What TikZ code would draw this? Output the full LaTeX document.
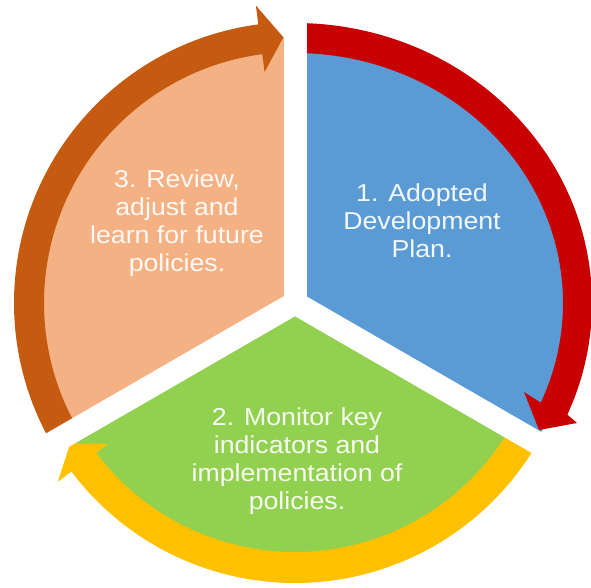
\documentclass[tikz,border=0pt]{standalone}
\usepackage{fontspec}
\setmainfont[FakeStretch=1.09]{Liberation Sans}
\definecolor{cblue}{HTML}{5B9BD5}
\definecolor{cred}{HTML}{C80000}
\definecolor{cgreen}{HTML}{92D050}
\definecolor{cyellow}{HTML}{FFC000}
\definecolor{csalmon}{HTML}{F4B183}
\definecolor{corange}{HTML}{C55A11}
\begin{document}
\begin{tikzpicture}[x=1pt,y=1pt,
  txt/.style={text=white, text opacity=0.92, align=center, inner sep=0pt, font=\fontsize{24.5}{28}\selectfont},
  gapstrip/.style={white, line width=23pt}]
\useasboundingbox (0,0) rectangle (591,588);
\coordinate (C) at (295,285);
\begin{scope}[shift={(295,285)}]
  % sectors
  \fill[cblue] (0,0) -- (-30:282pt and 265pt) arc[start angle=-30,end angle=90,x radius=282pt,y radius=265pt] -- cycle;
  \fill[cgreen] (0,0) -- (210:265pt) arc[start angle=210,end angle=330,radius=265pt] -- cycle;
  \fill[csalmon] (0,0) -- (90:266pt) arc[start angle=90,end angle=210,radius=266pt] -- cycle;
  % red arrow (1 -> 2)
  \fill[cred] (90:297pt and 280pt) arc[start angle=90,end angle=-23.5,x radius=297pt,y radius=280pt]
     -- (282,-120) -- (244,-127) -- (229,-89)
     -- (-23.5:268pt and 250pt) arc[start angle=-23.5,end angle=90,x radius=268pt,y radius=250pt] -- cycle;
  % yellow arrow (2 -> 3)
  \fill[cyellow] (330:280pt) arc[start angle=330,end angle=217,radius=280pt]
     -- (217:297pt) -- (212:265pt) -- (217:234pt)
     -- (217:249pt) arc[start angle=217,end angle=330,radius=249pt] -- cycle;
  % orange arrow (3 -> 1)
  \fill[corange] (210:281pt) arc[start angle=210,end angle=97.5,radius=281pt]
     -- (97.5:300pt) -- (92.5:266pt) -- (97.5:233pt)
     -- (97.5:251pt) arc[start angle=97.5,end angle=210,radius=251pt] -- cycle;
  % white gaps
  \foreach \a in {90,210,330} \draw[gapstrip] (0,0) -- (\a:330pt);
\end{scope}
\node[txt] (t1) at (422,367) {1. Adopted\\Development\\Plan.};
\node[txt] (t3) at (177,364.5) {3. Review,\\adjust and\\learn for future\\policies.};
\node[txt] (t2) at (297,127) {2. Monitor key\\indicators and\\implementation of\\policies.};
\end{tikzpicture}
\end{document}
